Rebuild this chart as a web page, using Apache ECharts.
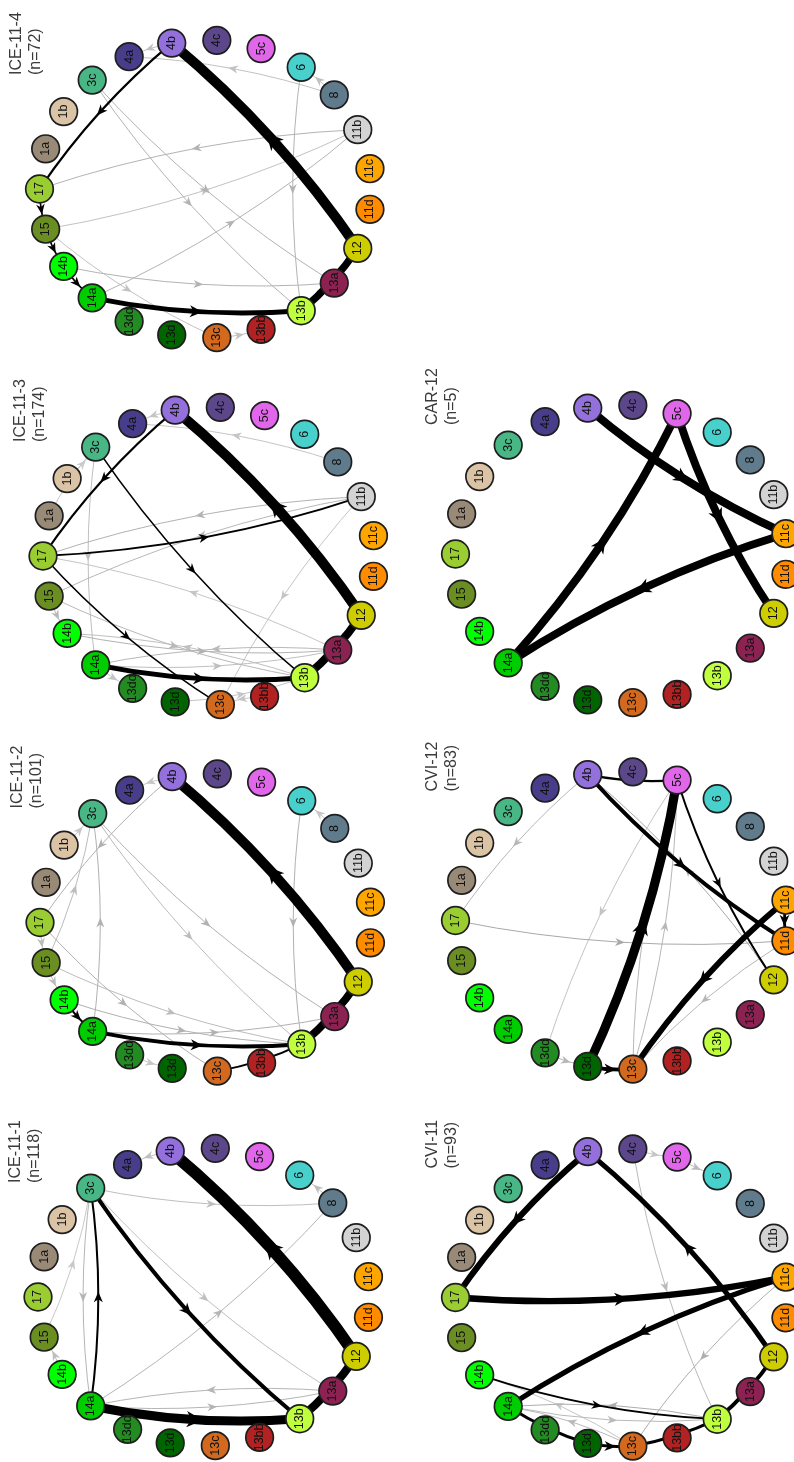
<!DOCTYPE html>
<html>
<head>
<meta charset="utf-8">
<title>Transition networks</title>
<script src="https://cdn.jsdelivr.net/npm/echarts/dist/echarts.min.js"></script>
<style>
  html, body { margin: 0; padding: 0; background: #ffffff; }
  #chart { width: 794px; height: 1462px; }
</style>
</head>
<body>
<div id="chart"></div>
<script>
// Behaviour categories, in their order around each ring
const nodeNames = ['1a', '1b', '3c', '4a', '4b', '4c', '5c', '6', '8', '11b', '11c', '11d',
  '12', '13a', '13b', '13bb', '13c', '13d', '13dd', '14a', '14b', '15', '17'];
const nodeColors = ['#998a77', '#dbc3a5', '#48b785', '#483d8b', '#9370db', '#5d478b', '#e066ea',
  '#48d1cc', '#607b8b', '#d3d3d3', '#ffa500', '#ff8c00', '#cdcd00', '#8b2252', '#c0ff3e',
  '#b22222', '#d2691e', '#006400', '#228b22', '#00cd00', '#00ff00', '#6b8e23', '#9acd32'];

// Panels and their number of observed transitions
const panelNames = ['ICE-11-1', 'ICE-11-2', 'ICE-11-3', 'ICE-11-4', 'CVI-11', 'CVI-12', 'CAR-12'];
const panelN = [118, 101, 174, 72, 93, 83, 5];

// Transitions per panel: [from, to, count]
const edgesIce1 = [
  ['12', '4b', 35], ['13b', '12', 24], ['14a', '13b', 27], ['3c', '13b', 12], ['14a', '3c', 6],
  ['3c', '14a', 3], ['3c', '8', 2], ['14a', '8', 3], ['3c', '13a', 2], ['13a', '14a', 3],
  ['14a', '13a', 3], ['15', '3c', 1], ['14b', '15', 2], ['4b', '4a', 2], ['8', '6', 2]
];
const edgesIce2 = [
  ['12', '4b', 25], ['13b', '12', 20], ['14a', '13b', 10], ['14b', '14a', 5], ['13c', '13b', 5],
  ['6', '13b', 3], ['8', '6', 1], ['4b', '17', 3], ['3c', '13a', 3], ['3c', '13b', 2],
  ['14a', '3c', 3], ['15', '3c', 2], ['17', '13c', 3], ['14b', '13b', 3], ['14a', '13a', 3],
  ['15', '13b', 2], ['17', '15', 2], ['13dd', '13d', 1], ['4b', '4a', 1], ['1b', '3c', 1],
  ['15', '14b', 2]
];
const edgesIce3 = [
  ['12', '4b', 44], ['13b', '12', 35], ['14a', '13b', 22], ['17', '11b', 9], ['4b', '17', 9],
  ['3c', '13b', 7], ['17', '13c', 7], ['11b', '17', 5], ['11b', '15', 4], ['11b', '13c', 2],
  ['8', '4a', 2], ['13a', '17', 2], ['14b', '13a', 5], ['14a', '13a', 3], ['13b', '14b', 3],
  ['15', '13b', 4], ['13a', '14a', 4], ['3c', '1a', 2], ['4b', '4a', 2], ['3c', '14a', 3],
  ['13bb', '13c', 2], ['15', '14b', 4], ['1b', '3c', 1], ['13d', '13b', 2], ['14a', '13dd', 2]
];
const edgesIce4 = [
  ['12', '4b', 18], ['13b', '12', 13], ['14a', '13b', 9], ['4b', '17', 4], ['17', '15', 3],
  ['15', '14b', 3], ['14b', '14a', 3], ['11b', '17', 2], ['15', '11b', 1], ['14a', '11b', 2],
  ['6', '13b', 2], ['8', '4a', 1], ['3c', '13a', 2], ['3c', '13b', 2], ['14b', '13a', 2],
  ['15', '13c', 1], ['13c', '13bb', 1], ['4b', '4a', 1], ['8', '6', 1], ['13a', '13b', 2]
];
const edgesCvi11 = [
  ['4b', '17', 14], ['17', '11c', 15], ['11c', '14a', 12], ['12', '4b', 12], ['13b', '12', 9],
  ['14a', '13d', 7], ['13d', '13c', 7], ['13c', '13b', 7], ['14b', '13b', 4],
  ['4c', '13b', 2], ['11c', '13c', 3], ['13b', '14a', 3], ['14a', '13b', 2], ['13c', '14a', 2],
  ['13c', '14b', 1], ['4c', '5c', 1], ['5c', '6', 2]
];
const edgesCvi12 = [
  ['13d', '5c', 19], ['11c', '13c', 12], ['4b', '11d', 8], ['13d', '13c', 8], ['4b', '5c', 5],
  ['11c', '11d', 6], ['5c', '12', 4], ['4b', '17', 2], ['17', '11d', 3], ['12', '4b', 3],
  ['11d', '13c', 2], ['5c', '13c', 2], ['13c', '5c', 2], ['5c', '13dd', 1], ['13dd', '13d', 2]
];
const edgesCar12 = [
  ['4b', '11c', 1], ['5c', '12', 1], ['14a', '5c', 1], ['11c', '14a', 1]
];
const panelEdges = [edgesIce1, edgesIce2, edgesIce3, edgesIce4, edgesCvi11, edgesCvi12, edgesCar12];

// Ring centres on the page, and where each panel's caption starts
const layout = [
  { cx: 204, cy: 1297, titleDrop: 114 },
  { cx: 206, cy: 922.5, titleDrop: 114 },
  { cx: 209, cy: 556, titleDrop: 114 },
  { cx: 205.5, cy: 189, titleDrop: 114 },
  { cx: 621.5, cy: 1297.5, titleDrop: 129 },
  { cx: 621.5, cy: 920.5, titleDrop: 129 },
  { cx: 621.5, cy: 554, titleDrop: 129 }
];
const RX = 166, RY = 149;
const FONT = '"Liberation Sans", Arial, sans-serif';
const BLACK_PCT = 4;     // share of transitions above which an edge is drawn black
const BEND = 0.07;       // edge curvature, relative to edge length

// Position of a category on the unit ring (clockwise, 17 on the far left)
function unitPos(name) {
  const i = nodeNames.indexOf(name);
  const a = Math.PI - (i + 1) * 2 * Math.PI / nodeNames.length;
  return [Math.cos(a), Math.sin(a)];
}

function greyFor(pct) {
  const t = Math.min(1, pct / BLACK_PCT);
  const v = Math.round(210 - 45 * t);
  return 'rgb(' + v + ',' + v + ',' + v + ')';
}

function edgeRenderer(n) {
  return function (params, api) {
    const p1 = api.coord([api.value(0), api.value(1)]);
    const p2 = api.coord([api.value(2), api.value(3)]);
    const pct = 100 * api.value(4) / n;
    const black = pct >= BLACK_PCT;
    const w = black ? Math.max(1.5, 0.4 * pct) : 1;
    const color = black ? '#000000' : greyFor(pct);
    const dx = p2[0] - p1[0], dy = p2[1] - p1[1];
    const len = Math.sqrt(dx * dx + dy * dy) || 1;
    const cpx = (p1[0] + p2[0]) / 2 - BEND * dy;
    const cpy = (p1[1] + p2[1]) / 2 + BEND * dx;
    const mx = 0.25 * p1[0] + 0.5 * cpx + 0.25 * p2[0];
    const my = 0.25 * p1[1] + 0.5 * cpy + 0.25 * p2[1];
    const ux = dx / len, uy = dy / len;
    const L = 9 + 0.8 * w, H = 3.5 + 0.5 * w;
    const tip = [mx + ux * L / 2, my + uy * L / 2];
    const bx = mx - ux * L / 2, by = my - uy * L / 2;
    const notch = [bx + ux * L * 0.3, by + uy * L * 0.3];
    const left = [bx - uy * H, by + ux * H];
    const right = [bx + uy * H, by - ux * H];
    return {
      type: 'group',
      children: [
        {
          type: 'bezierCurve',
          shape: { x1: p1[0], y1: p1[1], x2: p2[0], y2: p2[1], cpx1: cpx, cpy1: cpy },
          style: { stroke: color, lineWidth: w, fill: 'none', lineCap: 'butt' }
        },
        {
          type: 'polygon',
          shape: { points: [tip, left, notch, right] },
          style: { fill: color, stroke: 'none' }
        }
      ]
    };
  };
}

function renderNode(params, api) {
  const p = api.coord([api.value(0), api.value(1)]);
  const k = api.value(2);
  return {
    type: 'group',
    children: [
      {
        type: 'circle',
        shape: { cx: p[0], cy: p[1], r: 13.8 },
        style: { fill: nodeColors[k], stroke: '#1e1e1e', lineWidth: 1.7 }
      },
      {
        type: 'text',
        x: p[0], y: p[1], rotation: Math.PI / 2,
        style: {
          text: nodeNames[k], fontSize: 12.5, fontFamily: FONT, fill: '#111111',
          align: 'center', verticalAlign: 'middle'
        }
      }
    ]
  };
}

const grids = [], xAxes = [], yAxes = [], series = [];
layout.forEach(function (L, i) {
  grids.push({ left: L.cx - RX, top: L.cy - RY, width: 2 * RX, height: 2 * RY });
  xAxes.push({ type: 'value', gridIndex: i, min: -1, max: 1, show: false });
  yAxes.push({ type: 'value', gridIndex: i, min: -1, max: 1, show: false });

  const edgeData = panelEdges[i].slice()
    .sort(function (a, b) { return a[2] - b[2]; })
    .map(function (e) {
      const s = unitPos(e[0]), t = unitPos(e[1]);
      return [s[0], s[1], t[0], t[1], e[2]];
    });
  series.push({
    type: 'custom', name: panelNames[i] + ' transitions',
    coordinateSystem: 'cartesian2d', xAxisIndex: i, yAxisIndex: i,
    clip: false, silent: true, z: 2,
    encode: { x: [0, 2], y: [1, 3] },
    data: edgeData,
    renderItem: edgeRenderer(panelN[i])
  });
  series.push({
    type: 'custom', name: panelNames[i] + ' categories',
    coordinateSystem: 'cartesian2d', xAxisIndex: i, yAxisIndex: i,
    clip: false, silent: true, z: 3,
    encode: { x: 0, y: 1 },
    data: nodeNames.map(function (nm, k) { const p = unitPos(nm); return [p[0], p[1], k]; }),
    renderItem: renderNode
  });
});

const captions = panelNames.map(function (nm, i) {
  return {
    type: 'text',
    x: layout[i].cx - 198,
    y: layout[i].cy - layout[i].titleDrop,
    rotation: Math.PI / 2,
    silent: true,
    style: {
      text: nm + '\n(n=' + panelN[i] + ')',
      fontSize: 16, lineHeight: 19, fontFamily: FONT, fill: '#3a3a3a',
      align: 'left', verticalAlign: 'top'
    }
  };
});

const chart = echarts.init(document.getElementById('chart'), null, { renderer: 'canvas' });
chart.setOption({
  backgroundColor: '#ffffff',
  animation: false,
  grid: grids,
  xAxis: xAxes,
  yAxis: yAxes,
  graphic: captions,
  series: series
});
</script>
</body>
</html>
